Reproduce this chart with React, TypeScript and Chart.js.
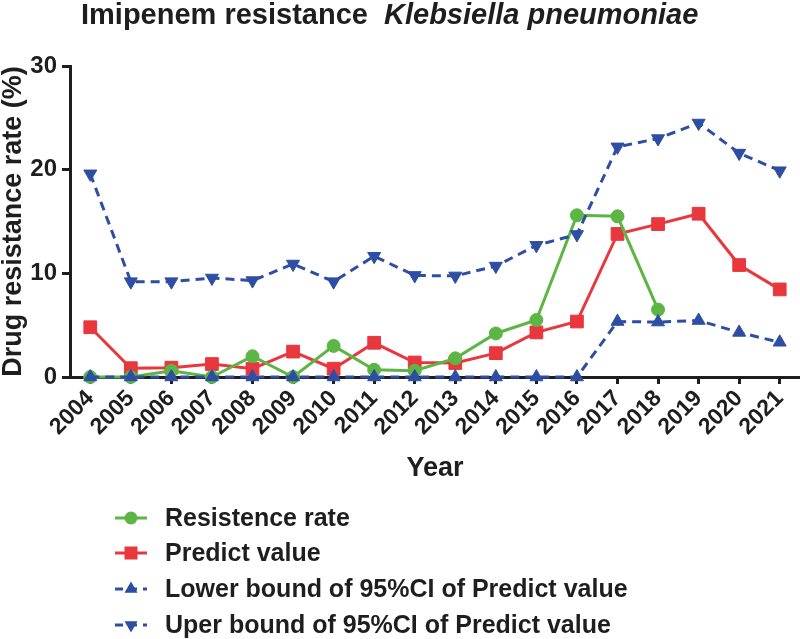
import React, { useEffect, useRef } from "react";
import { Chart, registerables } from "chart.js";

Chart.register(...registerables);

const years = ["2004", "2005", "2006", "2007", "2008", "2009", "2010", "2011", "2012", "2013", "2014", "2015", "2016", "2017", "2018", "2019", "2020", "2021"];
const resistanceRate = [0, 0, 0.6, 0, 2.0, 0, 3.0, 0.7, 0.6, 1.8, 4.2, 5.5, 15.6, 15.5, 6.5, null, null, null];
const predictValue = [4.8, 0.85, 0.9, 1.25, 0.8, 2.45, 0.8, 3.3, 1.4, 1.35, 2.3, 4.3, 5.35, 13.8, 14.75, 15.75, 10.8, 8.45];
const lowerBound = [0, 0, 0, 0, 0, 0, 0, 0, 0, 0, 0, 0, 0, 5.35, 5.3, 5.45, 4.3, 3.35];
const upperBound = [19.6, 9.2, 9.2, 9.55, 9.3, 10.9, 9.2, 11.65, 9.8, 9.75, 10.7, 12.7, 13.75, 22.2, 23.0, 24.5, 21.6, 19.9];
const yTickValues = [0, 10, 20, 30];
const seriesLabels = [
  "Resistence rate",
  "Predict value",
  "Lower bound of 95%CI of Predict value",
  "Uper bound of 95%CI of Predict value",
];
const titleMain = "Imipenem resistance";
const titleItalic = "Klebsiella pneumoniae";
const xTitle = "Year";
const yTitle = "Drug resistance rate (%)";

const FONT = "'Liberation Sans', Arial, Helvetica, sans-serif";
const INK = "#1e1e1e";
const GREEN = "#5cb545";
const RED = "#e8373d";
const BLUE = "#2d4ea2";

type Marker = "circle" | "rect" | "triUp" | "triDown";
const seriesStyles: { color: string; marker: Marker; dashed: boolean }[] = [
  { color: GREEN, marker: "circle", dashed: false },
  { color: RED, marker: "rect", dashed: false },
  { color: BLUE, marker: "triUp", dashed: true },
  { color: BLUE, marker: "triDown", dashed: true },
];

function drawMarker(ctx: CanvasRenderingContext2D, m: Marker, x: number, y: number, color: string) {
  ctx.save();
  ctx.fillStyle = color;
  ctx.setLineDash([]);
  ctx.beginPath();
  if (m === "circle") {
    ctx.arc(x, y, 6.5, 0, Math.PI * 2);
  } else if (m === "rect") {
    ctx.rect(x - 6.5, y - 6.5, 13, 13);
  } else {
    const r = 7.5;
    const dir = m === "triUp" ? 1 : -1;
    for (let i = 0; i < 3; i++) {
      const a = (i * 2 * Math.PI) / 3;
      const px = x + Math.sin(a) * r;
      const py = y - dir * Math.cos(a) * r;
      if (i === 0) ctx.moveTo(px, py);
      else ctx.lineTo(px, py);
    }
    ctx.closePath();
  }
  ctx.fill();
  ctx.restore();
}

const decorPlugin = {
  id: "decor",
  afterDraw(chart: any) {
    const ctx: CanvasRenderingContext2D = chart.ctx;
    ctx.save();
    // title
    ctx.fillStyle = INK;
    ctx.textBaseline = "alphabetic";
    ctx.textAlign = "left";
    ctx.font = `bold 29px ${FONT}`;
    const tx = 81;
    const ty = 24;
    ctx.fillText(titleMain, tx, ty);
    const w1 = ctx.measureText(titleMain + "  ").width;
    ctx.font = `italic bold 29px ${FONT}`;
    ctx.fillText(titleItalic, tx + w1, ty);

    // legend
    const rows = [518, 553, 589, 625];
    seriesLabels.forEach((label, i) => {
      const st = seriesStyles[i];
      const y = rows[i];
      ctx.save();
      ctx.strokeStyle = st.color;
      ctx.lineWidth = 3;
      ctx.setLineDash(st.dashed ? [8, 6] : []);
      ctx.beginPath();
      ctx.moveTo(115, y);
      ctx.lineTo(147, y);
      ctx.stroke();
      ctx.restore();
      drawMarker(ctx, st.marker, 131, y, st.color);
      ctx.fillStyle = INK;
      ctx.font = `bold 25px ${FONT}`;
      ctx.textBaseline = "middle";
      ctx.fillText(label, 165, y + 1);
    });
    ctx.restore();
  },
};

export default function App() {
  const ref = useRef<HTMLCanvasElement | null>(null);

  useEffect(() => {
    document.body.style.margin = "0";
    const canvas = ref.current;
    if (!canvas) return;
    const pointStyleOf = (m: Marker) => (m === "circle" ? "circle" : m === "rect" ? "rect" : "triangle");
    const datasets = [resistanceRate, predictValue, lowerBound, upperBound].map((data, i) => {
      const st = seriesStyles[i];
      return {
        label: seriesLabels[i],
        data,
        borderColor: st.color,
        backgroundColor: st.color,
        borderWidth: 3,
        borderDash: st.dashed ? [9, 6] : [],
        pointStyle: pointStyleOf(st.marker),
        pointRadius: st.marker === "circle" ? 6.5 : st.marker === "rect" ? 9 : 7.5,
        pointRotation: st.marker === "triDown" ? 180 : 0,
        pointBorderWidth: 1,
        pointBorderColor: st.color,
        pointBackgroundColor: st.color,
        tension: 0,
        spanGaps: false,
        clip: false as any,
        order: st.dashed ? 0 : i === 0 ? 1 : 2,
      };
    });

    const chart = new Chart(canvas, {
      type: "line",
      data: { labels: years, datasets },
      plugins: [decorPlugin],
      options: {
        animation: false,
        responsive: false,
        maintainAspectRatio: false,
        layout: { autoPadding: false, padding: { top: 66, left: 0, right: 0, bottom: 154 } },
        plugins: {
          legend: { display: false },
          title: { display: false },
          tooltip: { enabled: false },
        },
        scales: {
          x: {
            type: "category",
            offset: true,
            grid: { drawOnChartArea: false, drawTicks: true, tickLength: 7, lineWidth: 3, color: INK },
            border: { display: true, color: INK, width: 3 },
            ticks: {
              autoSkip: false,
              minRotation: 45,
              maxRotation: 45,
              padding: 1,
              color: INK,
              font: { family: FONT, size: 23, weight: "bold" },
            },
            title: {
              display: true,
              text: xTitle,
              color: INK,
              font: { family: FONT, size: 27, weight: "bold" },
              padding: { top: 0, bottom: 0 },
            },
            afterFit: (s: any) => {
              s.height = 108;
              s.paddingRight = 0;
              s.paddingLeft = 0;
            },
          },
          y: {
            min: 0,
            max: 30,
            afterBuildTicks: (s: any) => {
              s.ticks = yTickValues.map((v) => ({ value: v }));
            },
            grid: { drawOnChartArea: false, drawTicks: true, tickLength: 8, lineWidth: 3, color: INK },
            border: { display: true, color: INK, width: 3 },
            ticks: {
              padding: 5,
              color: INK,
              font: { family: FONT, size: 24, weight: "bold" },
            },
            title: {
              display: true,
              text: yTitle,
              color: INK,
              font: { family: FONT, size: 27, weight: "bold" },
              padding: { top: -3, bottom: 0 },
            },
            afterFit: (s: any) => {
              s.width = 70;
              s.paddingTop = 0;
              s.paddingBottom = 0;
            },
          },
        },
      } as any,
    });
    return () => chart.destroy();
  }, []);

  return (
    <div style={{ width: 800, height: 639, background: "#fff" }}>
      <canvas ref={ref} width={800} height={639} style={{ display: "block" }} />
    </div>
  );
}
